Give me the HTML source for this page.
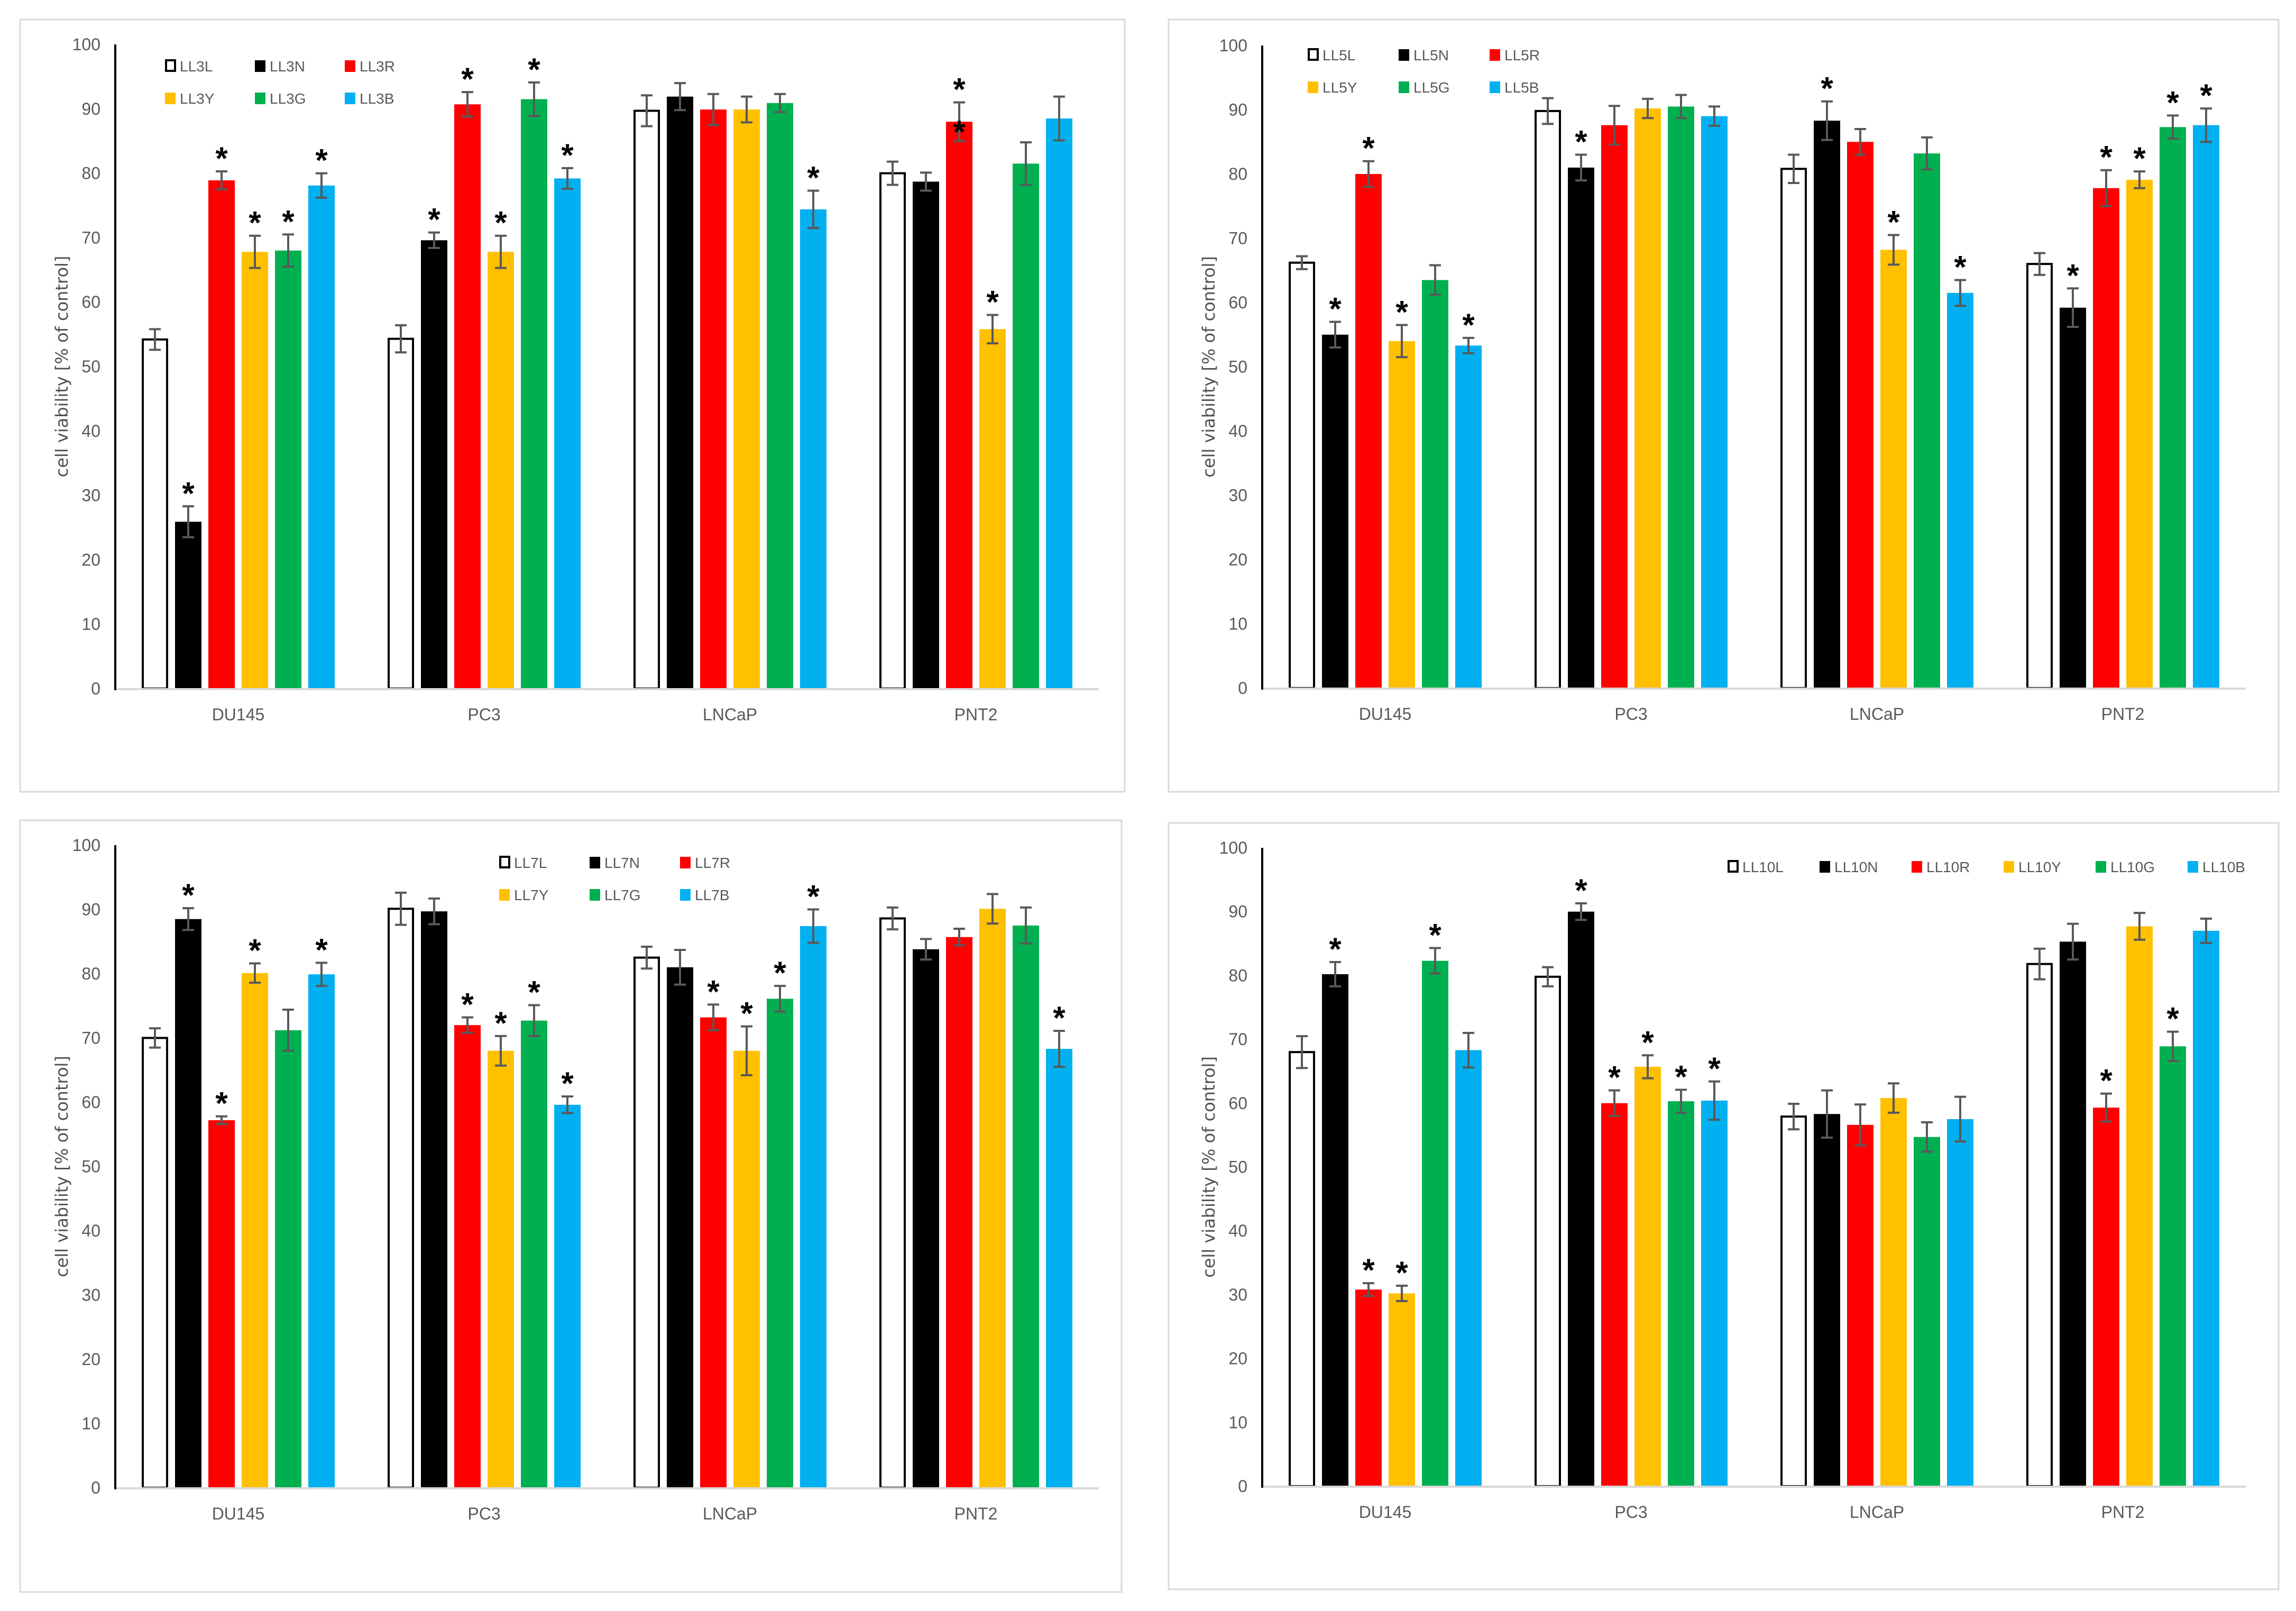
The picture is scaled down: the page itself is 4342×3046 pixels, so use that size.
<!DOCTYPE html>
<html><head><meta charset="utf-8"><style>html,body{margin:0;padding:0;background:#fff}svg{display:block}</style></head>
<body>
<svg id="fig" width="4342" height="3046" viewBox="0 0 4342 3046" xmlns="http://www.w3.org/2000/svg"></svg>
<script>
const categories = ["DU145","PC3","LNCaP","PNT2"];
const seriesColors = ["#ffffff","#000000","#ff0000","#ffc000","#00b050","#00b0f0"];
const yTicks = [0,10,20,30,40,50,60,70,80,90,100];
// LL3
const ll3Names = ["LL3L","LL3N","LL3R","LL3Y","LL3G","LL3B"];
const ll3Values = [[54.2,25.9,78.9,67.8,68.0,78.1],[54.3,69.6,90.7,67.8,91.5,79.2],[89.7,91.9,89.9,89.9,90.9,74.4],[80.0,78.7,88.0,55.8,81.5,88.5]];
const ll3Errors = [[1.6,2.4,1.4,2.5,2.5,1.9],[2.1,1.2,1.9,2.5,2.6,1.6],[2.4,2.1,2.4,2.0,1.4,2.9],[1.8,1.4,3.0,2.2,3.3,3.4]];
const ll3Stars = [[0,1,1,1,1,1],[0,1,1,1,1,1],[0,0,0,0,0,1],[0,0,2,1,0,0]];
// LL5
const ll5Names = ["LL5L","LL5N","LL5R","LL5Y","LL5G","LL5B"];
const ll5Values = [[66.2,55.0,80.0,54.0,63.5,53.3],[89.8,81.0,87.6,90.2,90.5,89.0],[80.8,88.3,85.0,68.2,83.2,61.5],[66.0,59.2,77.8,79.1,87.3,87.6]];
const ll5Errors = [[1.0,2.0,2.0,2.5,2.3,1.2],[2.0,2.0,3.0,1.5,1.8,1.5],[2.2,3.0,2.0,2.3,2.5,2.0],[1.7,3.0,2.8,1.3,1.8,2.6]];
const ll5Stars = [[0,1,1,1,0,1],[0,1,0,0,0,0],[0,1,0,1,0,1],[0,1,1,1,1,1]];
// LL7
const ll7Names = ["LL7L","LL7N","LL7R","LL7Y","LL7G","LL7B"];
const ll7Values = [[70.0,88.5,57.2,80.1,71.2,79.9],[90.1,89.7,72.0,68.0,72.7,59.6],[82.5,81.0,73.2,68.0,76.1,87.4],[88.6,83.8,85.7,90.1,87.5,68.3]];
const ll7Errors = [[1.5,1.7,0.6,1.5,3.2,1.8],[2.5,2.0,1.2,2.3,2.4,1.3],[1.7,2.7,2.0,3.8,2.0,2.6],[1.7,1.6,1.3,2.3,2.8,2.8]];
const ll7Stars = [[0,1,1,1,0,1],[0,0,1,1,1,1],[0,0,1,1,1,1],[0,0,0,0,0,1]];
// LL10
const ll10Names = ["LL10L","LL10N","LL10R","LL10Y","LL10G","LL10B"];
const ll10Values = [[68.0,80.2,30.8,30.2,82.3,68.3],[79.8,90.0,60.0,65.7,60.3,60.4],[57.9,58.3,56.6,60.8,54.7,57.5],[81.8,85.3,59.3,87.7,68.9,87.0]];
const ll10Errors = [[2.5,1.9,1.0,1.2,2.0,2.7],[1.5,1.3,2.0,1.8,1.8,3.0],[2.0,3.7,3.2,2.3,2.3,3.5],[2.4,2.8,2.2,2.1,2.3,1.9]];
const ll10Stars = [[0,1,1,1,1,0],[0,1,1,1,1,1],[0,0,0,0,0,0],[0,0,1,0,1,0]];

const NS="http://www.w3.org/2000/svg";
const svg=document.getElementById('fig');
function mk(tag,attrs,parent){const e=document.createElementNS(NS,tag);for(const k in attrs)e.setAttribute(k,attrs[k]);(parent||svg).appendChild(e);return e;}

const panels=[
 {id:'ll3',names:ll3Names,vals:ll3Values,errs:ll3Errors,stars:ll3Stars,bx:38,by:37,bw:2089,bh:1460,ax:218,right:2078,y100:84,y0:1302,
  leg:{x0:312,y0:125,dx:170,dy:61,cols:3}},
 {id:'ll5',names:ll5Names,vals:ll5Values,errs:ll5Errors,stars:ll5Stars,bx:2210,by:37,bw:2099,bh:1460,ax:2387,right:4247,y100:86,y0:1301,
  leg:{x0:2473,y0:104,dx:172,dy:61,cols:3}},
 {id:'ll7',names:ll7Names,vals:ll7Values,errs:ll7Errors,stars:ll7Stars,bx:38,by:1551,bw:2083,bh:1459,ax:218,right:2078,y100:1598,y0:2813,
  leg:{x0:944,y0:1631,dx:171,dy:61,cols:3}},
 {id:'ll10',names:ll10Names,vals:ll10Values,errs:ll10Errors,stars:ll10Stars,bx:2210,by:1556,bw:2099,bh:1449,ax:2387,right:4247,y100:1603,y0:2810,
  leg:{x0:3267,y0:1639,dx:174,dy:61,cols:6}}
];

panels.forEach(p=>{
  const g=mk('g',{});
  
  
  const border=mk('rect',{x:p.bx,y:p.by,width:p.bw,height:p.bh,fill:'#fff',stroke:'#d9d9d9','stroke-width':3},g);
  
  
  const yS=v=>p.y0-(p.y0-p.y100)*v/100;
  const band=(p.right-p.ax)/categories.length;
  const xC=i=>p.ax+band*(i+0.5);
  const barW=50, step=63;
  yTicks.forEach(t=>{
    const tx=mk('text',{x:p.ax-28,y:yS(t)+11,'text-anchor':'end','font-family':'Liberation Sans, sans-serif','font-size':32,fill:'#595959'},g);
    tx.textContent=t;
    
    
  });
  const yt=mk('text',{x:0,y:0,transform:`translate(${p.ax-90},${(p.y0+p.y100)/2}) rotate(-90)`,'text-anchor':'middle','font-family':'DejaVu Sans, sans-serif','font-size':32,fill:'#505050'},g);
  yt.textContent='cell viability [% of control]';
  
  
  categories.forEach((c,i)=>{
    const start=xC(i)-(6*step-(step-barW))/2;
    p.vals[i].forEach((v,s)=>{
      const x=start+s*step;
      const yTop=yS(v);
      const r=mk('rect',{x:s===0?x+2:x,y:yTop,width:s===0?barW-4:barW,height:p.y0-yTop,fill:seriesColors[s],stroke:s===0?'#000':'none','stroke-width':s===0?4:0},g);
      
      
      const e=p.errs[i][s], cx=x+barW/2, ya=yS(v+e), yb=yS(v-e);
      const eb=mk('path',{d:`M${cx},${ya}V${yb}M${cx-11},${ya}H${cx+11}M${cx-11},${yb}H${cx+11}`,stroke:'#595959','stroke-width':4,fill:'none'},g);
      
      
      const ns=p.stars[i][s];
      if(ns>0){
        const st=mk('text',{x:cx,y:ya-4,'text-anchor':'middle','font-family':'Liberation Sans, sans-serif','font-size':60,'font-weight':'bold',fill:'#000'},g);
        st.textContent='*';
        
        
        if(ns>1){
          const st2=mk('text',{x:cx,y:yTop+40,'text-anchor':'middle','font-family':'Liberation Sans, sans-serif','font-size':60,'font-weight':'bold',fill:'#000'},g);
          st2.textContent='*';
          
          
        }
      }
    });
    const cl=mk('text',{x:xC(i),y:p.y0+60,'text-anchor':'middle','font-family':'Liberation Sans, sans-serif','font-size':32,fill:'#595959'},g);
    cl.textContent=c;
    
    
  });
  const xa=mk('line',{x1:p.ax,y1:p.y0+1,x2:p.right,y2:p.y0+1,stroke:'#d9d9d9','stroke-width':4},g);
  
  
  const ya=mk('line',{x1:p.ax,y1:p.y100,x2:p.ax,y2:p.y0+3,stroke:'#000','stroke-width':4},g);
  
  
  p.names.forEach((n,s)=>{
    const col=s%p.leg.cols, row=Math.floor(s/p.leg.cols);
    const lx=p.leg.x0+col*p.leg.dx, ly=p.leg.y0+row*p.leg.dy;
    const lg=mk('g',{},g);
    
    
    mk('rect',{x:s===0?lx+2:lx,y:ly-11,width:s===0?17:20,height:s===0?20:22,fill:seriesColors[s],stroke:s===0?'#000':'none','stroke-width':s===0?4:0},lg);
    const lt=mk('text',{x:lx+28,y:ly+10,'font-family':'Liberation Sans, sans-serif','font-size':28,fill:'#595959'},lg);
    lt.textContent=n;
  });
});
</script>
</body></html>
